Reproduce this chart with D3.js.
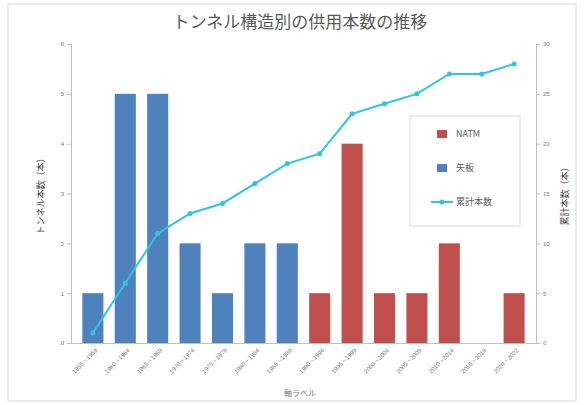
<!DOCTYPE html>
<html><head><meta charset="utf-8">
<script src="https://cdn.jsdelivr.net/npm/d3@7"></script>
<style>body{margin:0;background:#fff;font-family:"Noto Sans CJK JP",sans-serif}</style>
</head><body>
<script>
const periods = ["1955～1959","1960～1964","1965～1969","1970～1974","1975～1979","1980～1984","1985～1989","1990～1994","1995～1999","2000～2004","2005～2009","2010～2014","2015～2019","2020～2022"];
const natm = [0,0,0,0,0,0,0,1,4,1,1,2,0,1];
const yaita = [1,5,5,2,1,2,2,0,0,0,0,0,0,0];
const cumulative = [1,6,11,13,14,16,18,19,23,24,25,27,27,28];

const W = 584, H = 405;
const svg = d3.select("body").append("svg").attr("width", W).attr("height", H);
svg.append("rect").attr("x", 8).attr("y", 4).attr("width", 568).attr("height", 397)
  .attr("fill", "#fff").attr("stroke", "#d9d9d9");

const x = d3.scaleBand().domain(periods).range([71, 536]).padding(0.35);
const y = d3.scaleLinear().domain([0, 6]).range([343, 44]);
const y2 = d3.scaleLinear().domain([0, 30]).range([343, 44]);

svg.append("text").attr("x", 300).attr("y", 28).attr("text-anchor", "middle")
  .attr("font-size", 17).attr("fill", "#595959").text("トンネル構造別の供用本数の推移");

const gl = svg.append("g").attr("transform", "translate(71,0)")
  .call(d3.axisLeft(y).ticks(6).tickSize(4));
const gr = svg.append("g").attr("transform", "translate(536,0)")
  .call(d3.axisRight(y2).ticks(6).tickSize(4));
const gb = svg.append("g").attr("transform", "translate(0,343)")
  .call(d3.axisBottom(x).tickSize(0));
[gl, gr, gb].forEach(g => {
  g.selectAll("path,line").attr("stroke", "#bfbfbf");
  g.selectAll("text").attr("fill", "#777").attr("font-size", 6);
});
gb.selectAll("text").attr("text-anchor", "end").attr("dx", "-2").attr("dy", "6")
  .attr("transform", "rotate(-45)");

svg.append("text").attr("transform", "translate(44,194) rotate(-90)").attr("text-anchor", "middle")
  .attr("font-size", 9).attr("fill", "#404040").text("トンネル本数（本）");
svg.append("text").attr("transform", "translate(568,194) rotate(-90)").attr("text-anchor", "middle")
  .attr("font-size", 9).attr("fill", "#404040").text("累計本数（本）");
svg.append("text").attr("x", 300).attr("y", 396).attr("text-anchor", "middle")
  .attr("font-size", 8).attr("fill", "#777").text("軸ラベル");

svg.selectAll(".yb").data(periods).join("rect")
  .attr("x", d => x(d)).attr("width", x.bandwidth())
  .attr("y", (d, i) => y(yaita[i])).attr("height", (d, i) => y(0) - y(yaita[i]))
  .attr("fill", "#4f81bd");
svg.selectAll(".nb").data(periods).join("rect")
  .attr("x", d => x(d)).attr("width", x.bandwidth())
  .attr("y", (d, i) => y(natm[i])).attr("height", (d, i) => y(0) - y(natm[i]))
  .attr("fill", "#c0504d");

const cx = d => x(d) + x.bandwidth() / 2;
svg.append("path").datum(periods)
  .attr("d", d3.line().x(cx).y((d, i) => y2(cumulative[i])))
  .attr("fill", "none").attr("stroke", "#2fc3e8").attr("stroke-width", 2);
svg.selectAll(".pt").data(periods).join("circle")
  .attr("cx", cx).attr("cy", (d, i) => y2(cumulative[i])).attr("r", 2.5).attr("fill", "#2fc3e8");

const lg = svg.append("g");
lg.append("rect").attr("x", 410).attr("y", 116).attr("width", 110).attr("height", 110)
  .attr("fill", "#fff").attr("stroke", "#d9d9d9");
const items = [["NATM", "#c0504d"], ["矢板", "#4f81bd"], ["累計本数", "#2fc3e8"]];
items.forEach(([t, c], i) => {
  const yy = 134 + i * 34;
  if (i < 2) lg.append("rect").attr("x", 437).attr("y", yy - 4).attr("width", 10).attr("height", 8).attr("fill", c);
  else {
    lg.append("line").attr("x1", 431).attr("x2", 453).attr("y1", yy).attr("y2", yy).attr("stroke", c).attr("stroke-width", 2);
    lg.append("circle").attr("cx", 442).attr("cy", yy).attr("r", 2.5).attr("fill", c);
  }
  lg.append("text").attr("x", 456).attr("y", yy + 3).attr("font-size", 9).attr("fill", "#595959").text(t);
});
</script>
</body></html>
